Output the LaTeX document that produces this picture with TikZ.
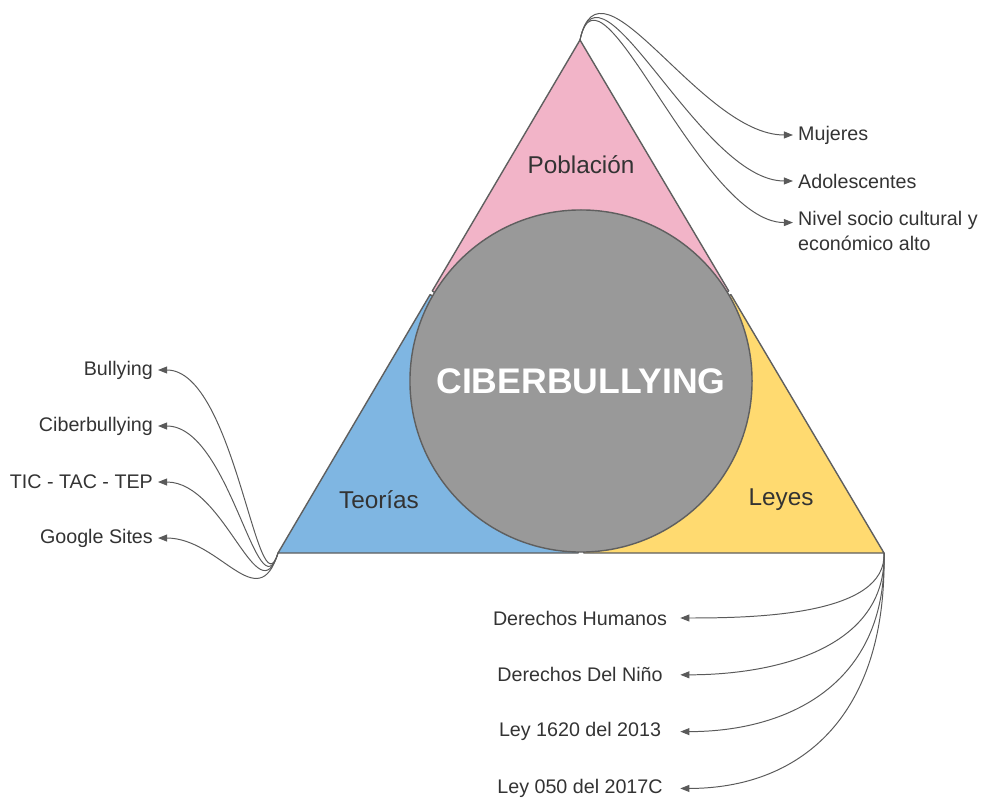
\documentclass[tikz,border=0pt]{standalone}
\usepackage{fontspec}
\setmainfont{Liberation Sans}
\usepackage{xcolor}
\usepackage{tikz}
\usetikzlibrary{positioning,calc,arrows.meta}
\definecolor{pinkpart}{RGB}{242,180,200}
\definecolor{bluepart}{RGB}{127,182,226}
\definecolor{yellowpart}{RGB}{255,218,112}
\definecolor{coregray}{RGB}{153,153,153}
\definecolor{edgegray}{RGB}{95,95,95}
\definecolor{linegray}{RGB}{90,90,90}
\definecolor{txtgray}{RGB}{51,51,51}
\tikzset{part/.style={draw=edgegray,line width=1pt,line join=round},
core node/.style={circle,fill=coregray,draw=edgegray,line width=1pt,minimum size=8.55cm,inner sep=0pt,text=white,font=\fontsize{25.3}{30}\selectfont\bfseries},
part label/.style={text=txtgray,font=\fontsize{17.3}{21}\selectfont},
item node/.style={text=txtgray,font=\fontsize{14}{17.8}\selectfont,inner sep=0pt,inner xsep=3.5pt},
link/.style={draw=linegray,line width=0.7pt,-{Triangle[length=6.5pt,width=5pt]}},}

\begin{document}
\begin{tikzpicture}[x=0.025cm,y=-0.025cm]
    \useasboundingbox (0,0) rectangle (985,799);

    \coordinate (top) at (580,40);
    \coordinate (bl) at (278,553);
    \coordinate (br) at (884,553);
    \coordinate (o) at (581,381);
    \coordinate (tl) at ($(top)!(o)!(bl)$);
    \coordinate (tr) at ($(top)!(o)!(br)$);
    \coordinate (tb) at ($(bl)!(o)!(br)$);

    % three parts of the triangle
    \filldraw[part,fill=pinkpart] (top) -- ($(tl)!1.5pt!(top)$) -- (o) -- ($(tr)!1.5pt!(top)$) -- cycle;
    \filldraw[part,fill=bluepart] (bl) -- ($(tb)!2pt!(bl)$) -- (o) -- ($(tl)!1.5pt!(bl)$) -- cycle;
    \filldraw[part,fill=yellowpart] (br) -- ($(tr)!1.5pt!(br)$) -- (o) -- ($(tb)!2pt!(br)$) -- cycle;

    \node[core node] (core) at (o) {CIBERBULLYING};

    \node[part label] (pob) at (581,165) {Población};
    \node[part label] (teo) at (379,500) {Teorías};
    \node[part label] (ley) at (781,500) {Leyes};

    % Poblacion
    \node[item node,anchor=west] (muj) at (793,135) {Mujeres};
    \node[item node,anchor=west] (ado) at (793,181) {Adolescentes};
    \node[item node,anchor=west,align=left] (niv) at (793,231) {Nivel socio cultural y\\económico alto};

    \draw[link] (top) .. controls +(20,-95) and +(-93,0) .. (muj.west);
    \draw[link] (top) .. controls +(20,-95) and +(-93,0) .. (ado.west);
    \draw[link] (top) .. controls +(20,-95) and +(-93,0) .. ([yshift=6pt]niv.west);

    % Teorias
    \node[item node,anchor=east] (bull) at (158,370) {Bullying};
    \node[item node] (cibe) [below=1.4cm of bull.east,anchor=east] {Ciberbullying};
    \node[item node] (tic) [below=1.4cm of cibe.east,anchor=east] {TIC - TAC - TEP};
    \node[item node] (goo) [below=1.4cm of tic.east,anchor=east] {Google Sites};

    \draw[link] (bl) .. controls +(-20,65) and +(77,0) .. (bull.east);
    \draw[link] (bl) .. controls +(-20,65) and +(72,0) .. (cibe.east);
    \draw[link] (bl) .. controls +(-20,65) and +(67,0) .. (tic.east);
    \draw[link] (bl) .. controls +(-20,65) and +(62,0) .. (goo.east);

    % Leyes
    \node[item node,minimum width=5cm] (dh) at (580,618) {Derechos Humanos};
    \node[item node,minimum width=5cm] (dn) [below=1.42cm of dh.center,anchor=center] {Derechos Del Niño};
    \node[item node,minimum width=5cm] (l1620) [below=1.42cm of dn.center,anchor=center] {Ley 1620 del 2013};
    \node[item node,minimum width=5cm] (l050) [below=1.42cm of l1620.center,anchor=center] {Ley 050 del 2017C};

    \draw[link] (br) .. controls +(3,62) and +(77,0) .. (dh.east);
    \draw[link] (br) .. controls +(3,97) and +(92,0) .. (dn.east);
    \draw[link] (br) .. controls +(3,132) and +(107,0) .. (l1620.east);
    \draw[link] (br) .. controls +(3,167) and +(117,0) .. (l050.east);
\end{tikzpicture}
\end{document}
